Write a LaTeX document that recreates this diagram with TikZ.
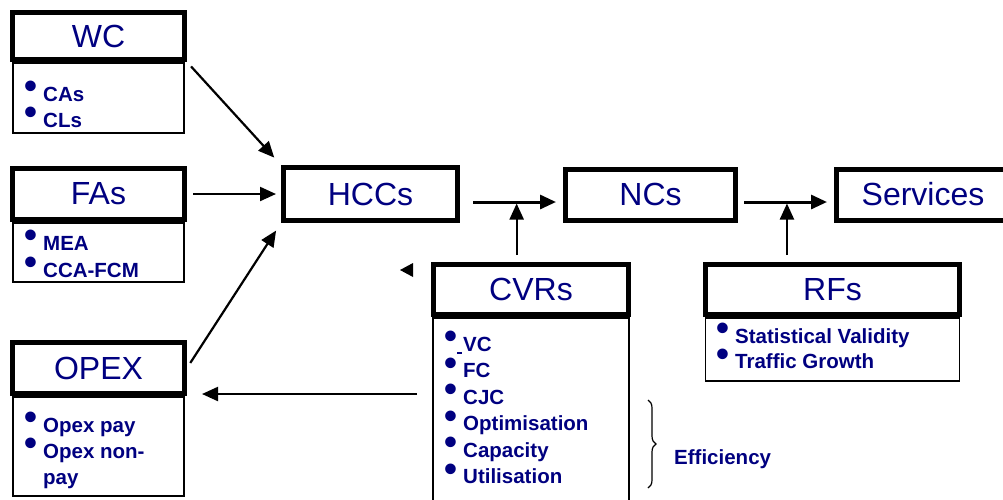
\documentclass[tikz,border=0pt]{standalone}
\usepackage{fontspec}
\setmainfont{Liberation Sans}
\usepackage{graphicx}
\usetikzlibrary{arrows.meta, positioning, decorations.pathreplacing}
\definecolor{navytext}{RGB}{0,0,128}
\newcommand{\blt}{\makebox[19pt][l]{\raisebox{2.5pt}{\scalebox{1.8}{\textbullet}}}}

\begin{document}
\begin{tikzpicture}[x=1pt, y=-1pt,
  titlebox/.style={draw, line width=5pt, minimum width=172pt, minimum height=51pt,
    inner sep=0pt, font=\fontsize{32}{36}\selectfont, text=navytext},
  listbox/.style={draw, line width=1.8pt, inner sep=0pt, below=0pt of #1},
  item/.style={anchor=base west, inner sep=0pt,
    font=\fontsize{20.5}{24}\selectfont\bfseries, text=navytext},
  arr/.style={-{Triangle[length=16pt, width=14pt]}, line width=2.2pt},
  fatarr/.style={arr, line width=3pt}
]
  \clip (0,0) rectangle (1003,499);

  % title boxes
  \node[titlebox, minimum height=47pt] (wc) at (98.5,36) {WC};
  \node[titlebox] (fas) at (98.5,194) {FAs};
  \node[titlebox] (opex) at (98.5,368) {OPEX};
  \node[titlebox, minimum width=174pt, minimum height=53pt] (hccs) at (370.5,194) {HCCs};
  \node[titlebox, minimum width=170pt] (ncs) at (650.5,194.5) {NCs};
  \node[titlebox, minimum width=173pt] (services) at (923,194.5) {Services};
  \node[titlebox, minimum width=195pt, minimum height=50pt] (cvrs) at (531,289.5) {CVRs};
  \node[titlebox, minimum width=254pt, minimum height=50pt] (rfs) at (832.5,289.5) {RFs};

  % list boxes
  \node[listbox=wc, minimum width=171pt, minimum height=70pt] (wclist) {};
  \node[listbox=fas, minimum width=171pt, minimum height=59pt] (faslist) {};
  \node[listbox=opex, minimum width=171pt, minimum height=99pt] (opexlist) {};
  \node[listbox=cvrs, minimum width=196pt, minimum height=220pt] (cvrslist) {};
  \node[listbox=rfs, minimum width=254pt, minimum height=63pt] (rfslist) {};

  % list items
  \foreach \txt [count=\i] in {CAs, CLs}
    \node[item] (wc\i) at (24, {101+26*(\i-1)}) {\blt\txt};
  \foreach \txt [count=\i] in {MEA, CCA-FCM}
    \node[item] (fas\i) at (24, {250+27*(\i-1)}) {\blt\txt};
  \foreach \txt [count=\i] in {Opex pay, Opex non-}
    \node[item] (opex\i) at (24, {432+26*(\i-1)}) {\blt\txt};
  \node[item] (opex3) at (43,484) {pay};
  \foreach \txt [count=\i] in {VC, FC, CJC, Optimisation, Capacity, Utilisation}
    \node[item] (cvr\i) at (444, {351+26.5*(\i-1)}) {\blt\txt};
  \foreach \txt [count=\i] in {Statistical Validity, Traffic Growth}
    \node[item] (rf\i) at (716, {343+25.5*(\i-1)}) {\blt\txt};
  \draw[navytext, line width=1.2pt] (457,353) -- (462,353);

  % efficiency brace
  \coordinate (bracetop) at (648,400);
  \coordinate (bracebot) at (648,488);
  \draw[decorate, decoration={brace, amplitude=8pt}, line width=1.2pt]
    (bracetop) -- (bracebot);
  \node[item] (efficiency) at (674,464) {Efficiency};

  % connectors
  \draw[arr, shorten <=6pt, shorten >=10pt] (wc.south east) -- (hccs.north west);
  \draw[arr, shorten <=6pt, shorten >=5pt] (fas.east) -- (fas.east -| hccs.west);
  \draw[arr, shorten <=6pt, shorten >=9pt] (opex.east) -- (hccs.south west);
  \draw[fatarr, shorten <=13pt, shorten >=7pt] ([yshift=-8pt]hccs.east)
    -- ([yshift=-8pt]hccs.east -| ncs.west) coordinate[pos=0.55] (j1);
  \draw[fatarr, shorten <=6pt, shorten >=7pt] ([yshift=-7.5pt]ncs.east)
    -- ([yshift=-7.5pt]ncs.east -| services.west) coordinate[pos=0.51] (j2);
  \draw[arr, shorten <=7pt, shorten >=1.5pt] (cvrs.north -| j1) -- (j1);
  \draw[arr, shorten <=7pt, shorten >=1.5pt] (rfs.north -| j2) -- (j2);
  \draw[arr, shorten <=15pt, shorten >=15pt] ([yshift=2pt]opex.south east -| cvrslist.west)
    -- ([yshift=2pt]opex.south east);
  \fill (400,270) -- (413,263) -- (413,277) -- cycle;
\end{tikzpicture}
\end{document}
